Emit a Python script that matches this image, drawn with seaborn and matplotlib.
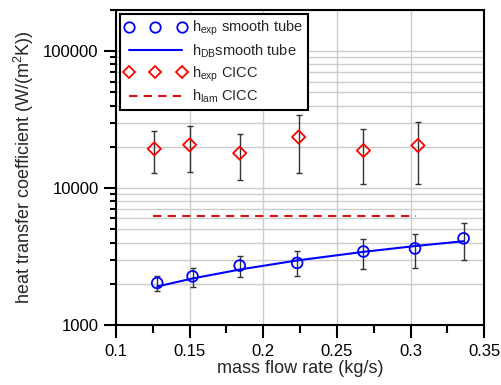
import numpy as np
import pandas as pd
import matplotlib
matplotlib.use("Agg")
import matplotlib.pyplot as plt
from matplotlib.lines import Line2D
from matplotlib.ticker import LogLocator, FixedLocator, NullFormatter
import seaborn as sns

# smooth tube data
m_tube = [0.128, 0.152, 0.184, 0.223, 0.268, 0.303, 0.336]
h_tube = [2025, 2265, 2715, 2840, 3440, 3620, 4290]
h_tube_hi = [2265, 2610, 3180, 3460, 4270, 4640, 5590]
h_tube_lo = [1760, 1890, 2240, 2265, 2580, 2610, 2970]
h_db = [1910, 2185, 2540, 2960, 3420, 3770, 4090]

# CICC data
m_cicc = [0.126, 0.150, 0.184, 0.224, 0.268, 0.305]
h_cicc = [19350, 20700, 17990, 23600, 18800, 20470]
h_cicc_hi = [25950, 28400, 24660, 34000, 26800, 30400]
h_cicc_lo = [12890, 13040, 11510, 12890, 10640, 10640]
m_lam = [0.125, 0.304]
h_lam = [6200, 6200]

sns.set_style("white")
plt.rcParams['font.family'] = ['Liberation Sans', 'DejaVu Sans']
plt.rcParams['mathtext.fontset'] = 'custom'
plt.rcParams['mathtext.rm'] = 'Liberation Sans'
plt.rcParams['mathtext.it'] = 'Liberation Sans'

fig = plt.figure(figsize=(5.01, 3.85), dpi=100)
ax = fig.add_axes([0.2315, 0.156, 0.735, 0.818])

df_tube = pd.DataFrame({"m": m_tube, "h": h_tube, "db": h_db})
df_cicc = pd.DataFrame({"m": m_cicc, "h": h_cicc})

# error bars
tube_err = [np.array(h_tube) - np.array(h_tube_lo), np.array(h_tube_hi) - np.array(h_tube)]
cicc_err = [np.array(h_cicc) - np.array(h_cicc_lo), np.array(h_cicc_hi) - np.array(h_cicc)]
ax.errorbar(m_tube, h_tube, yerr=tube_err, fmt='none', ecolor='#333333', elinewidth=1, capsize=2, zorder=3)
ax.errorbar(m_cicc, h_cicc, yerr=cicc_err, fmt='none', ecolor='#333333', elinewidth=1, capsize=2, zorder=3)

sns.lineplot(data=df_tube, x="m", y="db", color='blue', linewidth=1.5, ax=ax, zorder=4)
sns.lineplot(x=m_lam, y=h_lam, color='#dd1111', linewidth=1.5, linestyle=(0, (4, 3)), ax=ax, zorder=4)
sns.scatterplot(data=df_tube, x="m", y="h", marker='o', s=60, facecolor='none', edgecolor='blue',
                linewidth=1.3, ax=ax, zorder=5)
sns.scatterplot(data=df_cicc, x="m", y="h", marker='D', s=45, facecolor='none', edgecolor='red',
                linewidth=1.3, ax=ax, zorder=5)

ax.set_yscale('log')
ax.set_xlim(0.1, 0.35)
ax.set_ylim(1000, 200000)
ax.set_xticks([0.1, 0.15, 0.2, 0.25, 0.3, 0.35])
ax.set_xticklabels(['0.1', '0.15', '0.2', '0.25', '0.3', '0.35'])
ax.xaxis.set_minor_locator(FixedLocator([0.125, 0.175, 0.225, 0.275, 0.325]))
ax.set_yticks([1000, 10000, 100000])
ax.set_yticklabels(['1000', '10000', '100000'])
ax.yaxis.set_minor_locator(LogLocator(base=10, subs=np.arange(2, 10)))
ax.yaxis.set_minor_formatter(NullFormatter())

ax.grid(True, axis='x', which='major', color='#cccccc', linewidth=1)
ax.grid(True, axis='y', which='both', color='#cccccc', linewidth=1)
ax.set_axisbelow(True)

ax.tick_params(axis='both', which='both', direction='out', width=1.5, labelsize=12,
               bottom=True, left=True, colors='black', pad=4)
ax.tick_params(axis='x', which='major', length=9.5)
ax.tick_params(axis='x', which='minor', length=5.5)
ax.tick_params(axis='y', which='major', length=8.5)
ax.tick_params(axis='y', which='minor', length=4)
for s in ax.spines.values():
    s.set_color('black')
    s.set_linewidth(1.5)

ax.set_xlabel('mass flow rate (kg/s)', fontsize=13, labelpad=1)
ax.set_ylabel('heat transfer coefficient (W/(m$^2$K))', fontsize=13, labelpad=5)

handles = [
    Line2D([], [], linestyle='none', marker='o', markersize=7.5, markerfacecolor='none',
           markeredgecolor='blue', markeredgewidth=1.3),
    Line2D([], [], color='blue', linewidth=1.5),
    Line2D([], [], linestyle='none', marker='D', markersize=6.5, markerfacecolor='none',
           markeredgecolor='red', markeredgewidth=1.3),
    Line2D([], [], color='#dd1111', linewidth=1.5, linestyle=(0, (4, 3))),
]
labels = ['$h_{exp}$ smooth tube', '$h_{DB}$smooth tube', '$h_{exp}$ CICC', '$h_{lam}$ CICC']
leg = ax.legend(handles, labels, loc='upper left', numpoints=3, fontsize=10.5, frameon=True,
                fancybox=False, edgecolor='black', framealpha=1, borderpad=0.35,
                handlelength=4.2, handletextpad=0.4, labelspacing=0.3,
                bbox_to_anchor=(0.0, 1.0), borderaxespad=0.25)
leg.get_frame().set_linewidth(1.5)

fig.savefig("out.png", dpi=100)
